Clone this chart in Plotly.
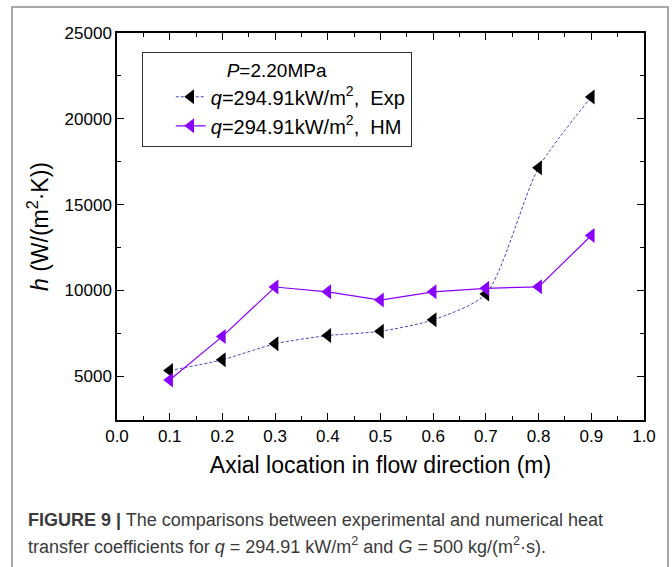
import plotly.graph_objects as go

# Axial measurement locations (m)
location_m = [0.1, 0.2, 0.3, 0.4, 0.5, 0.6, 0.7, 0.8, 0.9]

# Heat transfer coefficient h, W/(m2·K)
h_exp = [5330, 5960, 6890, 7370, 7620, 8290, 9790, 17150, 21270]
h_hm = [4780, 7320, 10200, 9920, 9440, 9920, 10120, 10210, 13200]

exp_name = "<i>q</i>=294.91kW/m<sup>2</sup>,  Exp"
hm_name = "<i>q</i>=294.91kW/m<sup>2</sup>,  HM"
legend_title = "<i>P</i>=2.20MPa"

FONT = "Liberation Sans, Arial, sans-serif"

fig = go.Figure()

fig.add_trace(go.Scatter(
    x=location_m, y=h_exp, name=exp_name, mode="lines+markers",
    line=dict(color="#4444c8", width=1, dash="3px,2px", shape="spline", smoothing=0.7),
    marker=dict(symbol="triangle-left", size=13, color="black"),
))
fig.add_trace(go.Scatter(
    x=location_m, y=h_hm, name=hm_name, mode="lines+markers",
    line=dict(color="#8a00ff", width=1.2),
    marker=dict(symbol="triangle-left", size=13, color="#8a00ff"),
))

axis_common = dict(
    showline=True, linecolor="black", linewidth=1.5, mirror="ticks",
    ticks="inside", ticklen=7, tickwidth=1.2, tickcolor="black",
    showgrid=False, zeroline=False,
    tickfont=dict(family=FONT, size=17, color="black"),
)

fig.update_xaxes(
    range=[0, 1], dtick=0.1, tickformat=".1f",
    minor=dict(ticks="inside", ticklen=4, dtick=0.05, tickcolor="black", tickwidth=1.2),
    title=dict(text="Axial location in flow direction (m)",
               font=dict(family=FONT, size=23, color="black"), standoff=12),
    **axis_common,
)
fig.update_yaxes(
    range=[2450, 25000], tick0=0, dtick=5000, tickformat="d",
    minor=dict(ticks="inside", ticklen=4, dtick=2500, tickcolor="black", tickwidth=1.2),
    title=dict(text="<i>h</i> (W/(m<sup>2</sup>·K))",
               font=dict(family=FONT, size=23, color="black"), standoff=10),
    **axis_common,
)

fig.update_layout(
    width=672, height=567,
    margin=dict(l=117, r=28, t=33, b=147),
    paper_bgcolor="white", plot_bgcolor="white",
    font=dict(family=FONT, color="black"),
    showlegend=True,
    legend=dict(
        x=0.047, y=0.952, xanchor="left", yanchor="top",
        bgcolor="white", bordercolor="#333333", borderwidth=1,
        font=dict(family=FONT, size=20, color="black"),
        title=dict(text=legend_title, side="top center",
                   font=dict(family=FONT, size=19, color="black")),
        indentation=28, tracegroupgap=0,
    ),
)

# Outer figure frame
fig.add_shape(type="rect", xref="paper", yref="paper",
              x0=-0.1992, x1=1.0455, y0=-0.45, y1=1.0672,
              line=dict(color="#8c8c8c", width=1.5), layer="below")

# Caption
fig.add_annotation(
    xref="paper", yref="paper", x=-0.1727, y=-0.2584, xanchor="left", yanchor="middle",
    text="<b>FIGURE 9 |</b> The comparisons between experimental and numerical heat",
    showarrow=False, font=dict(family=FONT, size=18, color="#3a3a3a"), align="left",
)
fig.add_annotation(
    xref="paper", yref="paper", x=-0.1727, y=-0.323, xanchor="left", yanchor="middle",
    text="transfer coefficients for <i>q</i> = 294.91 kW/m<sup>2</sup> and <i>G</i> = 500 kg/(m<sup>2</sup>·s).",
    showarrow=False, font=dict(family=FONT, size=18, color="#3a3a3a"), align="left",
)

fig.write_html("out.html")
